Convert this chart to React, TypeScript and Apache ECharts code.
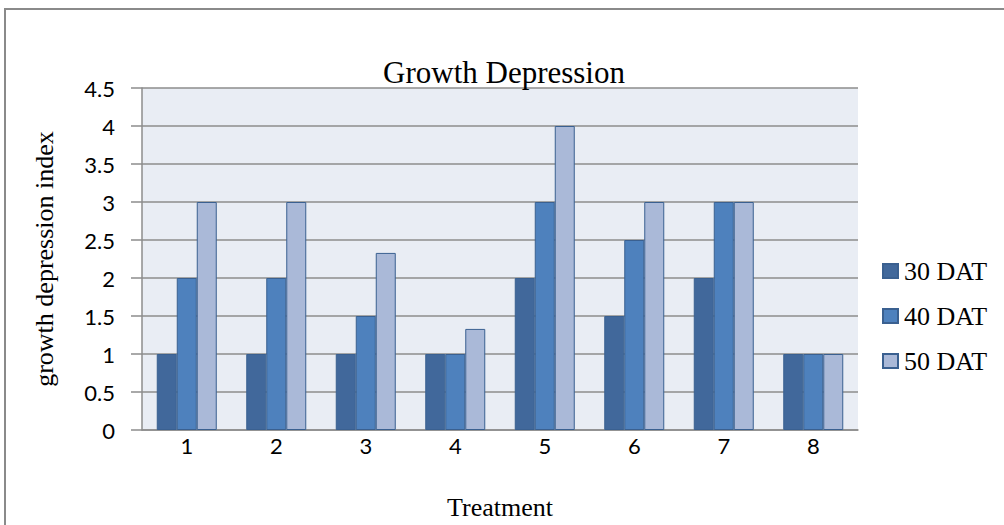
import React, { useEffect, useRef } from "react";
import * as echarts from "echarts";

const categories = ["1", "2", "3", "4", "5", "6", "7", "8"];
const seriesNames = ["30 DAT", "40 DAT", "50 DAT"];
const dat30 = [1, 1, 1, 1, 2, 1.5, 2, 1];
const dat40 = [2, 2, 1.5, 1, 3, 2.5, 3, 1];
const dat50 = [3, 3, 2.33, 1.33, 4, 3, 3, 1];
const colors = ["#41689B", "#4E81BD", "#AAB9D8"];

const SERIF = "'Liberation Serif', 'Times New Roman', serif";
const SANS = "Lato, 'Noto Sans', sans-serif";

export default function App() {
  const ref = useRef<HTMLDivElement>(null);
  useEffect(() => {
    document.body.style.margin = "0";
    const chart = echarts.init(ref.current!, null, { renderer: "svg" });
    const data = [dat30, dat40, dat50];
    chart.setOption({
      animation: false,
      backgroundColor: "#ffffff",
      title: {
        text: "Growth Depression",
        left: 499,
        top: 52,
        textAlign: "center",
        textStyle: { fontFamily: SERIF, fontSize: 31, fontWeight: "normal", color: "#000" },
      },
      graphic: [
        {
          type: "rect",
          shape: { x: 5, y: 9, width: 1100, height: 600 },
          style: { fill: "none", stroke: "#8a8a8a", lineWidth: 2 },
          silent: true,
        },
        {
          type: "rect",
          shape: { x: 142, y: 88, width: 1004 - 146 - 142, height: 525 - 95 - 88 },
          style: { fill: "#E9EDF4" },
          silent: true,
          z: -10,
        },
      ],
      legend: {
        orient: "vertical",
        left: 882,
        top: 258,
        padding: 0,
        icon: "rect",
        itemWidth: 15,
        itemHeight: 14,
        itemGap: 19,
        data: seriesNames,
        textStyle: { fontFamily: SERIF, fontSize: 26, color: "#000", lineHeight: 26, padding: [0, 0, 0, 1] },
      },
      grid: { left: 142, right: 146, top: 88, bottom: 95 },
      xAxis: {
        type: "category",
        data: categories,
        name: "Treatment",
        nameLocation: "middle",
        nameGap: 64,
        nameTextStyle: { fontFamily: SERIF, fontSize: 26, color: "#000" },
        axisLine: { show: true, lineStyle: { color: "#8c8c8c", width: 1.5 } },
        axisTick: { show: false },
        axisLabel: { fontFamily: SANS, fontSize: 22, color: "#000", margin: 4 },
      },
      yAxis: {
        type: "value",
        min: 0,
        max: 4.5,
        interval: 0.5,
        name: "growth depression index",
        nameLocation: "middle",
        nameGap: 85,
        nameTextStyle: { fontFamily: SERIF, fontSize: 26, color: "#000" },
        axisLine: { show: true, lineStyle: { color: "#8c8c8c", width: 1.5 } },
        axisTick: { show: true, inside: false, length: 11, lineStyle: { color: "#8c8c8c", width: 1.5 } },
        axisLabel: { fontFamily: SANS, fontSize: 22, color: "#000", margin: 27 },
        splitLine: { show: true, lineStyle: { color: "#8c8c8c", width: 1.5 } },
        splitArea: { show: false },
      },
      series: seriesNames.map((name, i) => ({
        name,
        type: "bar",
        data: data[i],
        barWidth: 20,
        barGap: "0%",
        itemStyle: { color: colors[i], borderColor: "#3A6090", borderWidth: 1 },
      })),
    });
    return () => chart.dispose();
  }, []);
  return <div ref={ref} style={{ position: "fixed", left: 0, top: 0, width: 1004, height: 525 }} />;
}
